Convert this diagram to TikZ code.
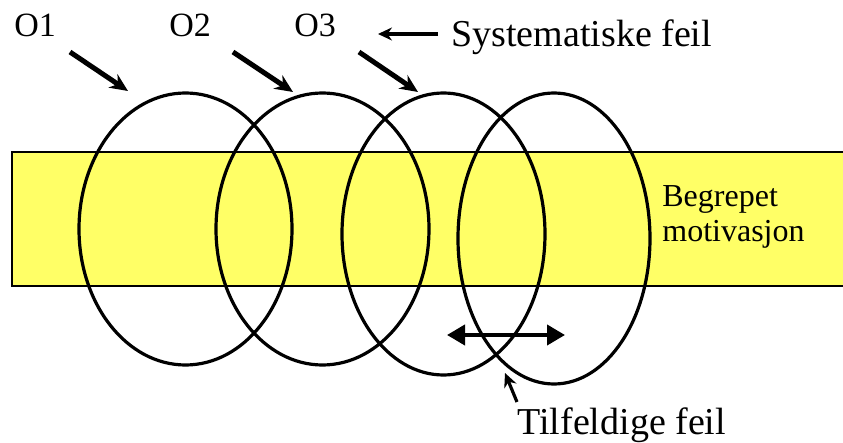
\documentclass[tikz,border=0pt]{standalone}
\usepackage{fontspec}
\setmainfont{Liberation Serif}
\usetikzlibrary{shapes,arrows.meta,positioning}
\definecolor{conceptyellow}{RGB}{255,255,102}

\begin{document}
\begin{tikzpicture}[
    x=0.5pt, y=-0.5pt,
    bar/.style={rectangle, draw, line width=1pt, fill=conceptyellow, anchor=north west, minimum width=430pt, minimum height=67pt, inner sep=0pt},
    ring/.style={ellipse, draw, line width=1.6pt, inner sep=0pt, outer sep=0pt},
    obs/.style={anchor=base west, inner sep=0pt, font=\fontsize{17}{20}\selectfont},
    note/.style={anchor=base west, inner sep=0pt, font=\fontsize{19}{22}\selectfont},
    pointer/.style={-{Stealth[length=9pt,width=8pt]}, line width=2.5pt},
    thinarrow/.style={-{Stealth[length=7pt,width=6.5pt]}, line width=1.6pt},
    spread/.style={{Triangle[length=9pt,width=10pt]}-{Triangle[length=9pt,width=10pt]}, line width=2pt}
]
\useasboundingbox (0,0) rectangle (843,443);

% The concept band
\node[bar] (band) at (11,151) {};
\node[anchor=north west, inner sep=0pt, align=left, font=\fontsize{16}{17.5}\selectfont] (concept) at (662,185) {Begrepet\\motivasjon};

% Measurements
\node[ring, minimum width=106.5pt, minimum height=136pt] (e1) at (185.5,229) {};
\node[ring, minimum width=106.5pt, minimum height=136pt] (e2) at (322.5,229) {};
\node[ring, minimum width=101.5pt, minimum height=141pt] (e3) at (443.5,234) {};
\node[ring, minimum width=96pt, minimum height=145.5pt] (e4) at (554,238.5) {};

% Labels
\node[obs] (o1) at (14,37) {O1};
\node[obs] (o2) at (169,37) {O2};
\node[obs] (o3) at (294,37) {O3};
\node[note] (sys) at (451,47) {Systematiske feil};
\node[note] (rand) at (517,435) {Tilfeldige feil};

% Arrows to the ellipses
\coordinate (t1) at (70,52);   \coordinate (h1) at (128,91);
\coordinate (t2) at (233,52);  \coordinate (h2) at (293,92);
\coordinate (t3) at (359,52);  \coordinate (h3) at (418,92);
\draw[pointer] (t1) -- (h1);
\draw[pointer] (t2) -- (h2);
\draw[pointer] (t3) -- (h3);

% Systematic error
\coordinate (s1) at (438,34);  \coordinate (s2) at (378,34);
\draw[thinarrow] (s1) -- (s2);

% Random error
\coordinate (l) at (447,335);  \coordinate (r) at (565,335);
\draw[spread] (l) -- (r);
\coordinate (f1) at (517,402); \coordinate (f2) at (505,373);
\draw[thinarrow] (f1) -- (f2);

\end{tikzpicture}
\end{document}
